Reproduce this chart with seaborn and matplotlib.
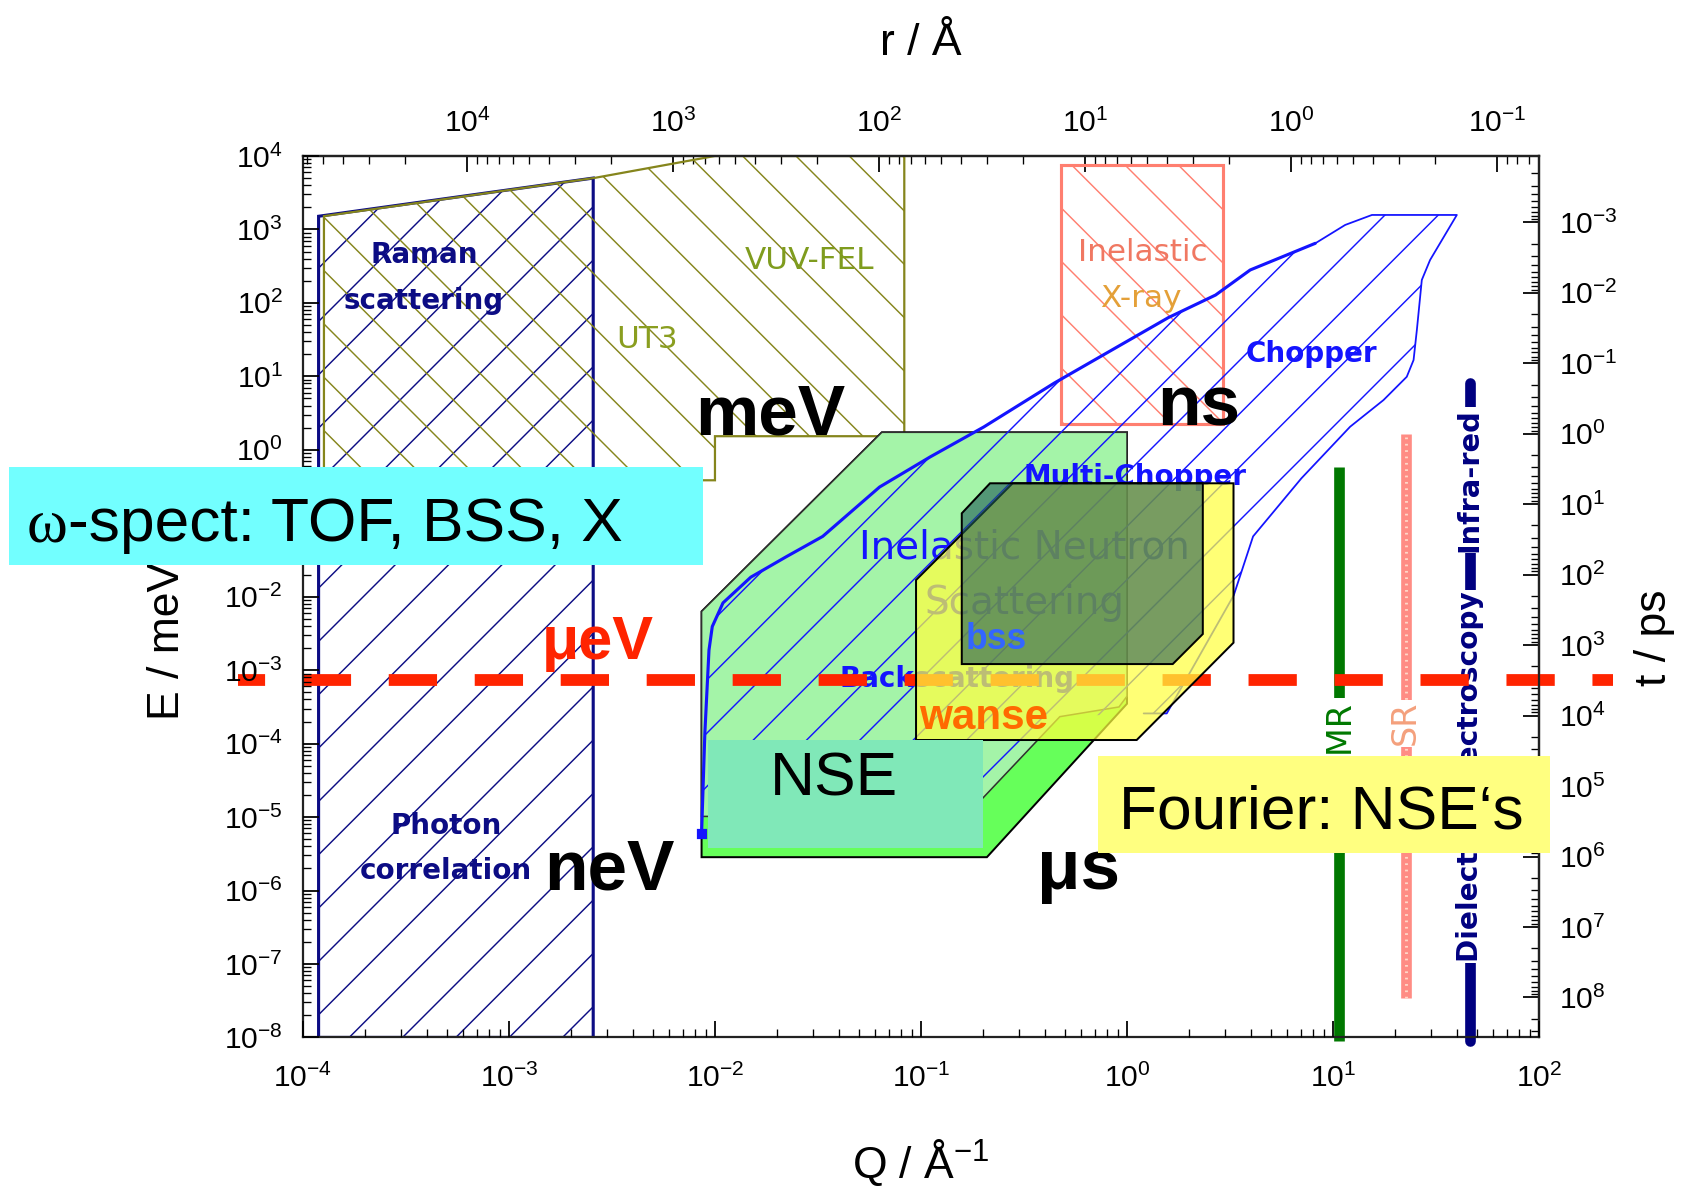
import numpy as np
import matplotlib
matplotlib.use("Agg")
import matplotlib.pyplot as plt
from matplotlib.patches import Rectangle
from matplotlib.colors import to_rgba
from matplotlib.ticker import LogLocator, NullFormatter
from matplotlib.offsetbox import TextArea, HPacker, AnnotationBbox
import seaborn as sns

# ---------------------------------------------------------------
# Region outlines, given as log10(Q / Å^-1) and log10(E / meV)
# ---------------------------------------------------------------
raman_logq = [-3.924, -3.924, -2.591, -2.591]
raman_loge = [-8.0, 3.179, 3.699, -8.0]

optics_logq = [-3.898, -3.898, -2.585, -2.0, -1.081, -1.081, -2.0, -2.0]
optics_loge = [-0.415, 3.181, 3.701, 4.0, 4.0, 0.185, 0.185, -0.415]

xray_logq = [-0.319, -0.319, 0.464, 0.464]
xray_loge = [0.350, 3.873, 3.873, 0.350]

ins_edge_logq = [-2.065, -2.049, -2.029, -2.013, -1.961, -1.826, -1.654, -1.477,
                 -1.201, -0.956, -0.695, -0.352, 0.201, 0.430, 0.598, 0.914]
ins_edge_loge = [-5.225, -3.852, -2.727, -2.406, -2.084, -1.734, -1.456, -1.179,
                 -0.507, -0.098, 0.311, 0.910, 1.800, 2.107, 2.448, 2.811]

chopper_logq = [1.059, 1.189, 1.601, 1.471, 1.431, 1.407, 1.391, 1.358, 1.245,
                1.083, 0.846, 0.612, 0.518, 0.193, 0.081]
chopper_loge = [3.061, 3.197, 3.197, 2.583, 2.312, 1.631, 1.222, 0.994, 0.677,
                0.314, -0.390, -1.179, -1.982, -3.589, -3.589]

ins_low_logq = [-0.326, -0.784, -2.065]
ins_low_loge = [-3.633, -4.991, -4.991]

nse_outer_logq = [-2.065, -1.190, 0.0, 0.0, -0.680, -2.065]
nse_outer_loge = [-2.201, 0.238, 0.238, -3.457, -5.546, -5.546]
nse_face_logq = [-2.065, -1.190, 0.0, 0.0, -0.039, -0.326, -0.784, -2.065]
nse_face_loge = [-2.201, 0.238, 0.238, -3.355, -3.501, -3.633, -4.991, -4.991]

wanse_logq = [-1.024, -1.024, 0.047, 0.517, 0.517, -0.555]
wanse_loge = [-1.773, -3.951, -3.951, -2.626, -0.456, -0.456]

bss_logq = [-0.802, -0.802, 0.222, 0.368, 0.368, -0.665]
bss_loge = [-0.865, -2.917, -2.917, -2.508, -0.456, -0.456]

nse_box_logq = [-2.032, -0.697]
nse_box_loge = [-5.426, -3.951]

# single-Q techniques (NMR, muSR, dielectric / infra-red)
bar_logq = [1.029, 1.352, 1.664]
bar_loge_top = [-0.23, 0.209, 0.91]
bar_loge_bottom = [-8.05, -7.459, -8.05]

# micro-eV reference level
uev_loge = -3.136
uev_logq_span = [-4.316, 2.36]

# axis conversions: r = 2 pi / Q, t ~ hbar / E
T_LOG0, T_SLOPE = 0.227, 1.0426


def pts(logq, loge):
    return 10.0 ** np.asarray(logq, float), 10.0 ** np.asarray(loge, float)


def q_to_r(q):
    q = np.clip(np.asarray(q, float), 1e-300, None)
    return 2 * np.pi / q


def e_to_t(e):
    e = np.clip(np.asarray(e, float), 1e-300, None)
    return 10 ** T_LOG0 * e ** (-T_SLOPE)


def t_to_e(t):
    t = np.clip(np.asarray(t, float), 1e-300, None)
    return (t / 10 ** T_LOG0) ** (-1.0 / T_SLOPE)


sns.set_theme(style="ticks")
plt.rcParams["font.family"] = ["Liberation Sans", "DejaVu Sans"]
plt.rcParams["mathtext.default"] = "regular"
plt.rcParams["hatch.linewidth"] = 0.65
plt.rcParams["axes.linewidth"] = 1.0
plt.rcParams["axes.edgecolor"] = "#222222"
for key in ("text.color", "axes.labelcolor", "xtick.color", "ytick.color",
            "xtick.labelcolor", "ytick.labelcolor"):
    plt.rcParams[key] = "black"

DPI = 160
fig = plt.figure(figsize=(1682 / DPI, 1187 / DPI), dpi=DPI)
fig.patch.set_facecolor("white")
ax = fig.add_axes([0.1801, 0.126, 0.7349, 0.7426])
ax.set_facecolor("white")
ax.set_xscale("log")
ax.set_yscale("log")
ax.set_axisbelow(False)

NAVY = "#0c0c84"
OLIVE = "#85851c"
SALMON = "#ff7f70"
BLUE = "#1414ff"
COMIC = "DejaVu Sans"

# optical techniques
ax.fill(*pts(raman_logq, raman_loge), facecolor="none", edgecolor=NAVY,
        hatch="/", lw=1.4, zorder=1.0)
ax.fill(*pts(optics_logq, optics_loge), facecolor="none", edgecolor=OLIVE,
        hatch="\\", lw=1.0, zorder=1.02)
ax.fill(*pts(xray_logq, xray_loge), facecolor="none", edgecolor=SALMON,
        hatch="\\", lw=1.4, zorder=1.05)

# neutron spin echo coverage (drawn as a block)
ax.fill(*pts(nse_outer_logq, nse_outer_loge), facecolor="#66ff5a",
        edgecolor="black", lw=0.9, zorder=1.1)
ax.fill(*pts(nse_face_logq, nse_face_loge), facecolor="#a4f4a8",
        edgecolor="#303030", lw=0.7, zorder=1.15)

# inelastic neutron scattering (chopper + backscattering)
ins_q, ins_e = pts(np.r_[ins_edge_logq, chopper_logq, ins_low_logq],
                   np.r_[ins_edge_loge, chopper_loge, ins_low_loge])
ax.fill(ins_q, ins_e, facecolor="none", edgecolor=BLUE, hatch="/", lw=0,
        zorder=1.2)
eq, ee = pts(ins_edge_logq, ins_edge_loge)
sns.lineplot(x=eq, y=ee, sort=False, estimator=None, color=BLUE, lw=1.4,
             ax=ax, zorder=1.25)
cq, ce = pts(np.r_[ins_edge_logq[-1], chopper_logq],
             np.r_[ins_edge_loge[-1], chopper_loge])
sns.lineplot(x=cq, y=ce, sort=False, estimator=None, color=BLUE, lw=0.8,
             ax=ax, zorder=1.25)
ax.plot(eq[:1], ee[:1], marker="s", ms=4, color=BLUE, zorder=1.25)


def region_label(lq, le, txt, color, size, weight="normal"):
    ax.text(10 ** lq, 10 ** le, txt, color=color, fontsize=size,
            family=COMIC, fontweight=weight, ha="center", va="center",
            zorder=1.3)


region_label(-3.409, 2.648, "Raman", NAVY, 12.5, "bold")
region_label(-3.414, 2.020, "scattering", NAVY, 12.5, "bold")
region_label(-3.305, -5.122, "Photon", NAVY, 12.5, "bold")
region_label(-3.305, -5.736, "correlation", NAVY, 12.5, "bold")
region_label(-2.331, 1.508, "UT3", "#8a9e20", 14)
region_label(-1.539, 2.575, "VUV-FEL", "#7f9c1e", 14)
region_label(0.076, 2.691, "Inelastic", "#f07862", 14)
region_label(0.065, 2.063, "X-ray", "#e4a038", 14)
region_label(0.893, 1.304, "Chopper", BLUE, 12.5, "bold")
region_label(0.039, -0.376, "Multi-Chopper", BLUE, 12.5, "bold")
region_label(-0.497, -1.325, "Inelastic Neutron", BLUE, 17.5)
region_label(-0.497, -2.084, "Scattering", BLUE, 17.5)
region_label(-0.826, -3.121, "Backscattering", BLUE, 12.5, "bold")

# single-Q techniques as vertical bars
bar_colors = ["#007800", "#ff8c84", "#000080"]
for i, (lq, top, bot) in enumerate(zip(bar_logq, bar_loge_top, bar_loge_bottom)):
    bq, be = pts([lq, lq], [bot, top])
    sns.lineplot(x=bq, y=be, sort=False, estimator=None, color=bar_colors[i],
                 lw=4.8, ax=ax, zorder=1.4, clip_on=False,
                 solid_capstyle="round" if i == 2 else "butt")
    if i == 1:
        ax.plot(bq, be, color="#ffd8c8", lw=1.3, linestyle=(0, (0.6, 1.6)),
                zorder=1.41, clip_on=False)

white_box = dict(facecolor="white", edgecolor="none", pad=0.6)
ax.text(10 ** bar_logq[0], 10 ** -3.926, "NMR", rotation=90, color="#007800",
        fontsize=15, family=COMIC, ha="center", va="center", bbox=white_box,
        zorder=1.45)
ax.text(10 ** bar_logq[1], 10 ** -3.721, "SR", rotation=90, color="#f4a07c",
        fontsize=15, family=COMIC, ha="center", va="center", bbox=white_box,
        zorder=1.45)
ax.text(10 ** bar_logq[2], 10 ** -0.412, "Infra-red", rotation=90,
        color="#000080", fontsize=13, family=COMIC, fontweight="bold",
        ha="center", va="center", bbox=white_box, zorder=1.45)
ax.text(10 ** bar_logq[2], 10 ** -4.45, "Dielectric spectroscopy", rotation=90,
        color="#000080", fontsize=12.6, family=COMIC, fontweight="bold",
        ha="center", va="center", bbox=white_box, zorder=1.45)

# micro-eV level
uq, ue = pts(uev_logq_span, [uev_loge, uev_loge])
sns.lineplot(x=uq, y=ue, sort=False, estimator=None, color="#ff2400", lw=5.3,
             linestyle=(1.8, (4.1, 3.2)), ax=ax, zorder=1.5, clip_on=False)

# translucent instrument windows
ax.fill(*pts(wanse_logq, wanse_loge), facecolor=to_rgba("#ffff40", 0.72),
        edgecolor="black", lw=0.9, zorder=1.6)
ax.fill(*pts(bss_logq, bss_loge), facecolor=to_rgba("#1e5a55", 0.6),
        edgecolor="black", lw=0.9, zorder=1.65)
ax.text(10 ** -0.633, 10 ** -2.580, "bss", color="#3366ff", fontsize=16,
        fontweight="bold", ha="center", va="center", zorder=1.7)
ax.text(10 ** -0.695, 10 ** -3.651, "wanse", color="#ff6a00", fontsize=19,
        fontweight="bold", ha="center", va="center", zorder=1.7)

# NSE label box
bq, be = pts(nse_box_logq, nse_box_loge)
ax.add_patch(Rectangle((bq[0], be[0]), bq[1] - bq[0], be[1] - be[0],
                       facecolor="#80e8b8", edgecolor="none", zorder=1.75))
ax.text(10 ** -1.423, 10 ** -4.496, "NSE", fontsize=28, color="black",
        ha="center", va="center", zorder=1.8)

# energy / time scale markers
for txt, lq, le in [("meV", -1.732, 0.457), ("ns", 0.346, 0.574),
                    ("neV", -2.513, -5.736), ("μs", -0.237, -5.736)]:
    ax.text(10 ** lq, 10 ** le, txt, fontsize=32, fontweight="bold",
            color="black", ha="center", va="center", zorder=1.85)
ax.text(10 ** -2.570, 10 ** -2.640, "μeV", fontsize=27.5, fontweight="bold",
        color="#ff2400", ha="center", va="center", zorder=1.85)

# axes, ticks and labels
ax.set_xlim(1e-4, 1e2)
ax.set_ylim(1e-8, 1e4)
for axis in (ax.xaxis, ax.yaxis):
    axis.set_major_locator(LogLocator(base=10, numticks=30))
    axis.set_minor_locator(LogLocator(base=10, subs=np.arange(2, 10) * 1.0,
                                      numticks=30))
    axis.set_minor_formatter(NullFormatter())
ax.tick_params(which="both", direction="in", top=False, right=False,
               color="black", labelcolor="black", labelsize=13.5)
ax.tick_params(which="major", length=7, width=0.8)
ax.tick_params(which="minor", length=3.5, width=0.6)
ax.tick_params(axis="x", pad=12)
ax.tick_params(axis="y", pad=9)
ax.set_xlabel("Q / Å$^{-1}$", fontsize=20)
ax.set_ylabel("E / meV", fontsize=20)
ax.xaxis.set_label_coords(0.5, -0.113)
ax.yaxis.set_label_coords(-0.093, 0.45)
for s in ax.spines.values():
    s.set_zorder(2.5)

secx = ax.secondary_xaxis("top", functions=(q_to_r, q_to_r))
secy = ax.secondary_yaxis("right", functions=(e_to_t, t_to_e))
for sec, axis in ((secx, secx.xaxis), (secy, secy.yaxis)):
    axis.set_major_locator(LogLocator(base=10, numticks=30))
    axis.set_minor_locator(LogLocator(base=10, subs=np.arange(2, 10) * 1.0,
                                      numticks=30))
    axis.set_minor_formatter(NullFormatter())
    sec.tick_params(which="both", direction="in", color="black",
                    labelcolor="black", labelsize=13.5)
    sec.tick_params(which="major", length=7, width=0.8)
    sec.tick_params(which="minor", length=3.5, width=0.6)
secx.tick_params(pad=8)
secy.tick_params(pad=9)
secx.set_xlabel("r / Å", fontsize=20)
secy.set_ylabel("t / ps", fontsize=20)
secx.xaxis.set_label_coords(0.5, 1.115, transform=ax.transAxes)
secy.yaxis.set_label_coords(1.077, 0.454, transform=ax.transAxes)

# technique summary boxes
fig.add_artist(Rectangle((0.0051, 0.5238), 0.4126, 0.0831,
                         transform=fig.transFigure, facecolor="#72ffff",
                         edgecolor="none", zorder=9))
spect = HPacker(children=[
    TextArea("ω", textprops=dict(family="Liberation Serif", fontsize=28,
                                 color="black")),
    TextArea("-spect: TOF, BSS, X", textprops=dict(family="Liberation Sans",
                                                  fontsize=28, color="black")),
], align="baseline", pad=0, sep=0)
ab = AnnotationBbox(spect, (0.0159, 0.557), xycoords="figure fraction",
                    box_alignment=(0, 0.5), frameon=False, pad=0)
ab.set_zorder(10)
fig.add_artist(ab)

fig.add_artist(Rectangle((0.6527, 0.2815), 0.2691, 0.0819,
                         transform=fig.transFigure, facecolor="#ffff80",
                         edgecolor="none", zorder=9))
fig.text(0.6655, 0.3024, "Fourier: NSE\u2018s", fontsize=28, color="black",
         ha="left", va="baseline", zorder=10)

fig.savefig("out.png", dpi=DPI, facecolor="white")
